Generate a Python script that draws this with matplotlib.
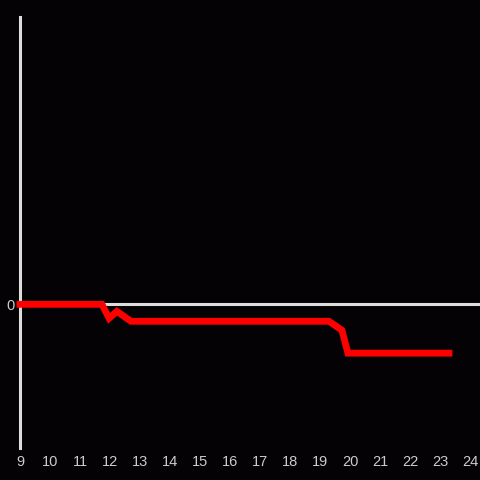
import matplotlib
matplotlib.use("Agg")
import matplotlib.pyplot as plt

hours = [9.0, 11.73, 11.97, 12.23, 12.7, 19.3, 19.73, 19.93, 23.3]
values = [0.0, 0.0, -0.097, -0.049, -0.118, -0.118, -0.18, -0.34, -0.34]
xticks = list(range(9, 25))

bg = "#040204"
fig = plt.figure(figsize=(4.8, 4.8), dpi=100, facecolor=bg)
ax = fig.add_axes([20/480, 32/480, 460/480, 431/480], facecolor=bg)
ax.set_xlim(9, 24.333)
ax.set_ylim(-1.0, 2.0)
ax.axhline(0, color="#dddddd", lw=2.2, zorder=1)
ax.plot(hours, values, color="#ff0000", lw=4.9, solid_joinstyle="miter",
        solid_capstyle="projecting", zorder=5, clip_on=False)
for s in ["top", "right", "bottom"]:
    ax.spines[s].set_visible(False)
ax.spines["left"].set_color("#dddddd")
ax.spines["left"].set_linewidth(2.2)
ax.spines["left"].set_zorder(3)
ax.set_xticks(xticks)
ax.set_xticklabels([str(t) for t in xticks])
ax.set_yticks([0])
ax.set_yticklabels(["0"])
ax.tick_params(length=0, colors="#cccccc", labelsize=10.5, pad=5)
for lab in ax.get_xticklabels() + ax.get_yticklabels():
    lab.set_family("Liberation Sans")
ax.tick_params(axis="y", pad=4)
fig.savefig("out.png", dpi=100, facecolor=bg)
